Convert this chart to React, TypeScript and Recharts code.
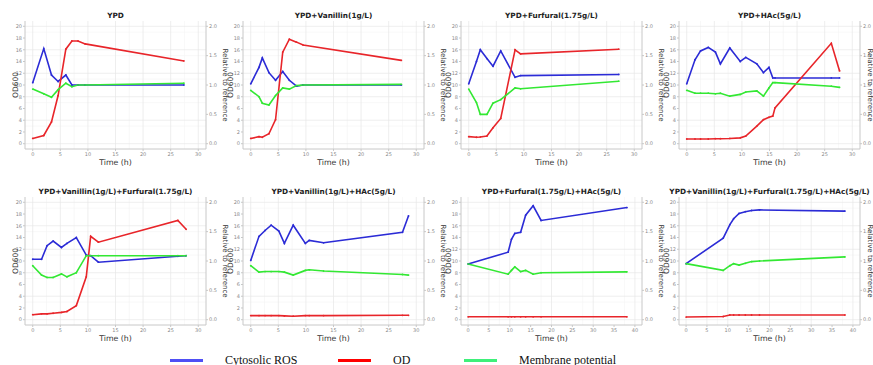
import { LineChart, Line, XAxis, YAxis, CartesianGrid } from "recharts";

// panel titles
const titles = [
  "YPD",
  "YPD+Vanillin(1g/L)",
  "YPD+Furfural(1.75g/L)",
  "YPD+HAc(5g/L)",
  "YPD+Vanillin(1g/L)+Furfural(1.75g/L)",
  "YPD+Vanillin(1g/L)+HAc(5g/L)",
  "YPD+Furfural(1.75g/L)+HAc(5g/L)",
  "YPD+Vanillin(1g/L)+Furfural(1.75g/L)+HAc(5g/L)",
];

// YPD
const ypdTime = [0, 2, 3.4, 4.6, 6, 7.1, 8.2, 9.5, 27.4];
const ypdRos = [1.04, 1.62, 1.17, 1.06, 1.17, 1.0, 1.0, 1.0, 1.0];
const ypdOd = [0.9, 1.4, 3.7, 8.2, 16.1, 17.5, 17.5, 17.0, 14.1];
const ypdMp = [0.93, 0.85, 0.79, 0.92, 1.03, 0.97, 1.0, 1.0, 1.03];

// YPD + vanillin
const vanTime = [0, 1.5, 2.1, 3.3, 4.5, 5.8, 7.0, 8.3, 9.5, 27.3];
const vanRos = [1.02, 1.3, 1.46, 1.21, 1.08, 1.23, 1.08, 0.98, 1.0, 1.0];
const vanOd = [0.9, 1.2, 1.1, 1.7, 4.1, 15.6, 17.8, 17.3, 16.8, 14.2];
const vanMp = [0.91, 0.8, 0.69, 0.66, 0.82, 0.95, 0.93, 0.99, 1.0, 1.01];

// YPD + furfural
const furTime = [0, 1.4, 2.1, 3.3, 4.4, 5.8, 8.4, 9.4, 27.2];
const furRos = [1.02, 1.4, 1.6, 1.45, 1.32, 1.58, 1.13, 1.16, 1.18];
const furOd = [1.2, 1.1, 1.15, 1.3, 2.7, 4.3, 16.0, 15.3, 16.1];
const furMp = [0.93, 0.7, 0.5, 0.5, 0.69, 0.75, 0.95, 0.935, 1.065];

// YPD + HAc
const hacTime = [0, 1.5, 2.5, 3.9, 5.2, 6.1, 7.8, 9.7, 10.7, 12.7, 13.9, 14.9, 15.6, 16.0, 26.2, 27.7];
const hacRos = [1.02, 1.43, 1.58, 1.64, 1.56, 1.36, 1.63, 1.4, 1.47, 1.36, 1.21, 1.3, 1.12, 1.12, 1.12, 1.12];
const hacOd = [0.8, 0.8, 0.8, 0.8, 0.85, 0.85, 0.9, 1.0, 1.3, 3.0, 4.1, 4.5, 4.7, 6.1, 17.1, 12.4];
const hacMp = [0.91, 0.86, 0.86, 0.86, 0.85, 0.86, 0.81, 0.84, 0.88, 0.9, 0.81, 0.95, 1.04, 1.04, 0.98, 0.96];

// YPD + vanillin + furfural
const vfTime = [0, 1.6, 2.6, 3.7, 5.2, 6.2, 7.9, 9.7, 10.5, 11.9, 26.3, 27.8];
const vfRos = [1.03, 1.03, 1.26, 1.34, 1.23, 1.3, 1.4, 1.1, 1.09, 0.98, 1.08, 1.09];
const vfOd = [0.85, 1.0, 1.0, 1.1, 1.25, 1.4, 2.4, 7.3, 14.2, 13.2, 16.9, 15.4];
const vfMp = [0.92, 0.76, 0.72, 0.72, 0.78, 0.73, 0.8, 1.09, 1.09, 1.09, 1.09, 1.09];

// YPD + vanillin + HAc
const vhTime = [0, 1.5, 2.6, 3.7, 5.1, 6.1, 7.7, 9.9, 10.6, 13.2, 27.5, 28.6];
const vhRos = [1.01, 1.42, 1.52, 1.61, 1.51, 1.3, 1.61, 1.3, 1.35, 1.31, 1.49, 1.77];
const vhOd = [0.7, 0.7, 0.7, 0.7, 0.7, 0.65, 0.6, 0.7, 0.7, 0.7, 0.75, 0.75];
const vhMp = [0.92, 0.81, 0.82, 0.82, 0.82, 0.81, 0.76, 0.84, 0.85, 0.83, 0.77, 0.76];

// YPD + furfural + HAc
const fhTime = [0, 9.6, 10.4, 11.2, 12.6, 13.8, 15.6, 17.5, 38.1];
const fhRos = [0.95, 1.15, 1.37, 1.47, 1.49, 1.78, 1.94, 1.69, 1.91];
const fhOd = [0.5, 0.5, 0.5, 0.5, 0.5, 0.5, 0.5, 0.5, 0.5];
const fhMp = [0.95, 0.775, 0.84, 0.9, 0.82, 0.84, 0.775, 0.8, 0.815];

// YPD + vanillin + furfural + HAc
const vfhTime = [0, 8.9, 10.5, 11.4, 12.7, 14.2, 15.7, 17.6, 38.1];
const vfhRos = [0.955, 1.39, 1.62, 1.72, 1.81, 1.84, 1.86, 1.87, 1.85];
const vfhOd = [0.45, 0.55, 0.8, 0.8, 0.8, 0.8, 0.8, 0.8, 0.8];
const vfhMp = [0.955, 0.84, 0.92, 0.955, 0.93, 0.96, 0.99, 1.0, 1.07];

// ticks and grid values
const xTicks30 = [0, 5, 10, 15, 20, 25, 30];
const xTicks40 = [0, 5, 10, 15, 20, 25, 30, 35, 40];
const xMinor30 = [2.5, 7.5, 12.5, 17.5, 22.5, 27.5];
const xMinor40 = [2.5, 7.5, 12.5, 17.5, 22.5, 27.5, 32.5, 37.5];
const odTicks = [0, 2, 4, 6, 8, 10, 12, 14, 16, 18, 20];
const odMinor = [1, 3, 5, 7, 9, 11, 13, 15, 17, 19];
const relTicks = [0, 0.5, 1, 1.5, 2];

const ROS = "#2b2bd6";
const OD = "#e8252a";
const MP = "#33e833";
const FONT = "'DejaVu Sans', sans-serif";

const panels = [
  { time: ypdTime, ros: ypdRos, od: ypdOd, mp: ypdMp, xMax: 30 },
  { time: vanTime, ros: vanRos, od: vanOd, mp: vanMp, xMax: 30 },
  { time: furTime, ros: furRos, od: furOd, mp: furMp, xMax: 30 },
  { time: hacTime, ros: hacRos, od: hacOd, mp: hacMp, xMax: 30 },
  { time: vfTime, ros: vfRos, od: vfOd, mp: vfMp, xMax: 30 },
  { time: vhTime, ros: vhRos, od: vhOd, mp: vhMp, xMax: 30 },
  { time: fhTime, ros: fhRos, od: fhOd, mp: fhMp, xMax: 40 },
  { time: vfhTime, ros: vfhRos, od: vfhOd, mp: vfhMp, xMax: 40 },
];

const tickStyle = { fontSize: 5, fill: "#8a8a8a", fontFamily: FONT };

function Panel({ idx }: { idx: number }) {
  const p = panels[idx];
  const data = p.time.map((t, i) => ({ t, ros: p.ros[i], od: p.od[i], mp: p.mp[i] }));
  const pad = p.xMax === 40 ? 1.7 : 1.4;
  const domain = [-pad, p.xMax + pad];
  const xTicks = p.xMax === 40 ? xTicks40 : xTicks30;
  const xMinor = p.xMax === 40 ? xMinor40 : xMinor30;
  const col = idx % 4;
  const row = Math.floor(idx / 4);
  return (
    <div style={{ position: "absolute", left: col * 218, top: row * 176, width: 236, height: 175 }}>
      <div
        style={{
          position: "absolute",
          left: -20,
          width: 271,
          top: 10.5,
          textAlign: "center",
          fontFamily: FONT,
          fontWeight: "bold",
          fontSize: 7.3,
          color: "#222",
          whiteSpace: "nowrap",
          lineHeight: "10px",
        }}
      >
        {titles[idx]}
      </div>
      <LineChart width={236} height={175} data={data} margin={{ top: 21, right: 16, left: 13, bottom: 8 }}>
        <CartesianGrid yAxisId="od" stroke="#f3f3f3" strokeWidth={0.6} horizontalValues={odMinor} verticalValues={xMinor} />
        <CartesianGrid yAxisId="od" stroke="#e6e6e6" strokeWidth={0.7} horizontalValues={odTicks} verticalValues={xTicks} />
        <XAxis
          dataKey="t"
          type="number"
          domain={domain}
          ticks={xTicks}
          height={18}
          tick={tickStyle}
          tickSize={2}
          tickMargin={1}
          stroke="#c8c8c8"
          label={{ value: "Time (h)", position: "insideBottom", offset: 2, fontSize: 7.8, fill: "#333", fontFamily: FONT }}
        />
        <XAxis xAxisId="top" dataKey="t" type="number" domain={domain} orientation="top" height={0} tick={false} tickLine={false} stroke="#c8c8c8" />
        <YAxis
          yAxisId="od"
          domain={[-0.9, 20.9]}
          ticks={odTicks}
          width={12}
          tick={tickStyle}
          tickSize={2}
          tickMargin={1}
          stroke="#c8c8c8"
          label={{ value: "OD600", angle: -90, position: "center", dx: col === 0 ? -4 : -7, fontSize: 7.5, fill: "#333", fontFamily: FONT }}
        />
        <YAxis
          yAxisId="rel"
          orientation="right"
          domain={[-0.09, 2.09]}
          ticks={relTicks}
          tickFormatter={(v: number) => v.toFixed(1)}
          width={14}
          tick={tickStyle}
          tickSize={2}
          tickMargin={1}
          stroke="#c8c8c8"
          label={{ value: "Relative to reference", angle: 90, position: "center", dx: col === 3 ? 3 : 12, fontSize: 7, fill: "#333", fontFamily: FONT }}
        />
        <Line yAxisId="rel" dataKey="ros" stroke={ROS} strokeWidth={1.6} dot={{ r: 0.9, fill: ROS, strokeWidth: 0 }} isAnimationActive={false} />
        <Line yAxisId="od" dataKey="od" stroke={OD} strokeWidth={1.6} dot={{ r: 0.9, fill: OD, strokeWidth: 0 }} isAnimationActive={false} />
        <Line yAxisId="rel" dataKey="mp" stroke={MP} strokeWidth={1.6} dot={{ r: 0.9, fill: MP, strokeWidth: 0 }} isAnimationActive={false} />
      </LineChart>
    </div>
  );
}

const legendItems = [
  { name: "Cytosolic ROS", color: "#4f4ff5", x: 170 },
  { name: "OD", color: "#ff0000", x: 338 },
  { name: "Membrane potential", color: "#3ef07a", x: 464 },
];

export default function App() {
  return (
    <div style={{ position: "absolute", left: 0, top: 0, width: 873, height: 365, background: "#fff", overflow: "hidden" }}>
      {panels.map((_, i) => (
        <Panel key={i} idx={i} />
      ))}
      {legendItems.map((it) => (
        <div key={it.name} style={{ position: "absolute", left: it.x, top: 352, height: 16, display: "flex", alignItems: "center" }}>
          <span style={{ display: "inline-block", width: 33, height: 3, background: it.color }} />
          <span style={{ marginLeft: 22, fontFamily: "'Liberation Serif', serif", fontSize: 12, color: "#111" }}>{it.name}</span>
        </div>
      ))}
    </div>
  );
}
